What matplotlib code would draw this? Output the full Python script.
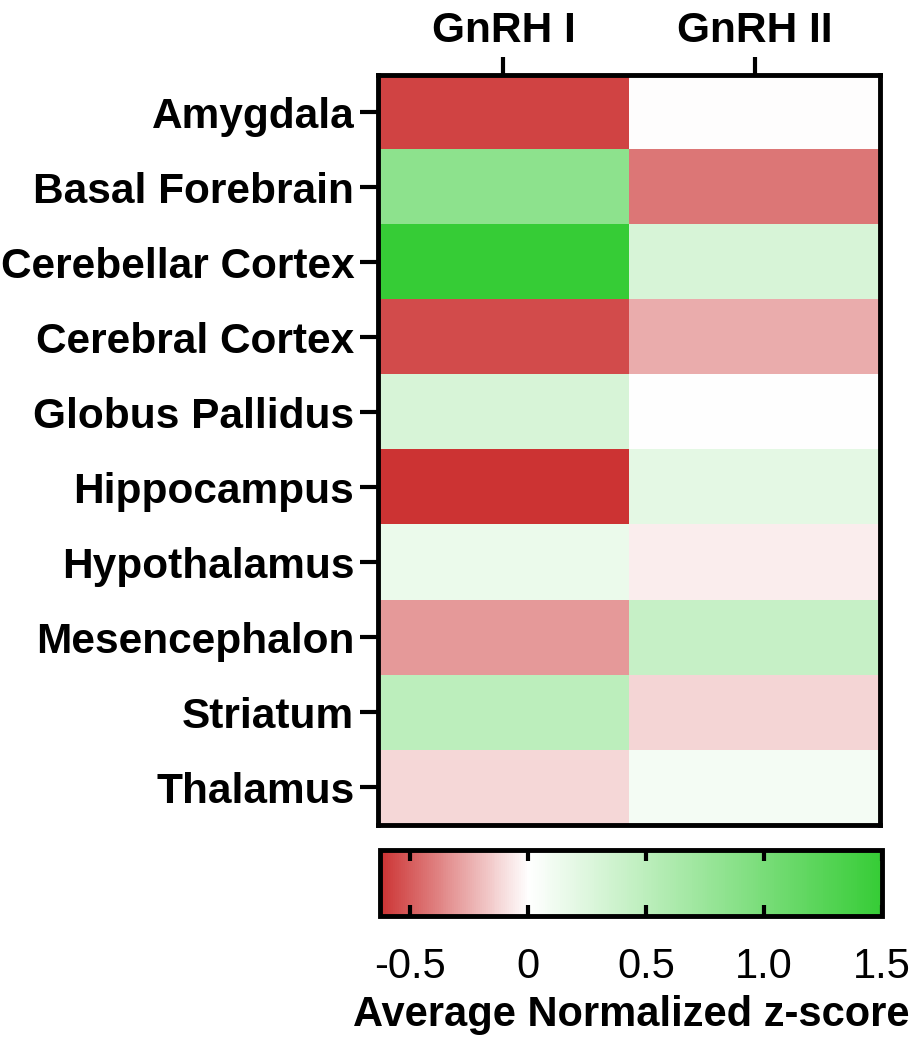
import numpy as np
import matplotlib
matplotlib.use('Agg')
import matplotlib.pyplot as plt
from matplotlib.colors import LinearSegmentedColormap, Normalize

plt.rcParams['font.family'] = ['Liberation Sans', 'DejaVu Sans']

regions = ['Amygdala', 'Basal Forebrain', 'Cerebellar Cortex', 'Cerebral Cortex',
           'Globus Pallidus', 'Hippocampus', 'Hypothalamus', 'Mesencephalon',
           'Striatum', 'Thalamus']
genes = ['GnRH I', 'GnRH II']
gnrh1 = [-0.58, 0.85, 1.5, -0.55, 0.30, -0.63, 0.15, -0.31, 0.50, -0.12]
gnrh2 = [0.0, -0.42, 0.30, -0.25, 0.01, 0.20, -0.05, 0.42, -0.13, 0.08]
cbar_ticks = [-0.5, 0, 0.5, 1.0, 1.5]
cbar_labels = ['-0.5', '0', '0.5', '1.0', '1.5']

vmin, vmax = -0.63, 1.5
data = np.column_stack([gnrh1, gnrh2])

mid = (0 - vmin) / (vmax - vmin)
cmap = LinearSegmentedColormap.from_list(
    'rwg', [(0, '#CC3333'), (mid, '#FFFFFF'), (1, '#36CC36')])
norm = Normalize(vmin=vmin, vmax=vmax)

fig = plt.figure(figsize=(9.15, 10.5), dpi=100)
ax = fig.add_axes([0.413, 0.2143, 0.549, 0.7143])
im = ax.imshow(data, cmap=cmap, norm=norm, aspect='auto', interpolation='nearest')

ax.set_xticks(range(len(genes)))
ax.set_xticklabels(genes, fontsize=30.5, fontweight='bold')
ax.xaxis.tick_top()
ax.set_yticks(range(len(regions)))
ax.set_yticklabels(regions, fontsize=30.5, fontweight='bold')
ax.tick_params(axis='both', length=13, width=3, direction='out', pad=4)
for s in ax.spines.values():
    s.set_linewidth(3.5)

cax = fig.add_axes([0.415, 0.1276, 0.549, 0.063])
cb = fig.colorbar(im, cax=cax, orientation='horizontal')
cb.set_ticks(cbar_ticks)
cb.set_ticklabels(cbar_labels)
cb.outline.set_linewidth(3.5)
cax.tick_params(axis='x', which='both', direction='in', length=8, width=3,
                top=True, bottom=True, labelsize=30, pad=22)
cb.set_label('Average Normalized z-score', fontsize=30, fontweight='bold', labelpad=6)

fig.savefig('out.png', dpi=100)
